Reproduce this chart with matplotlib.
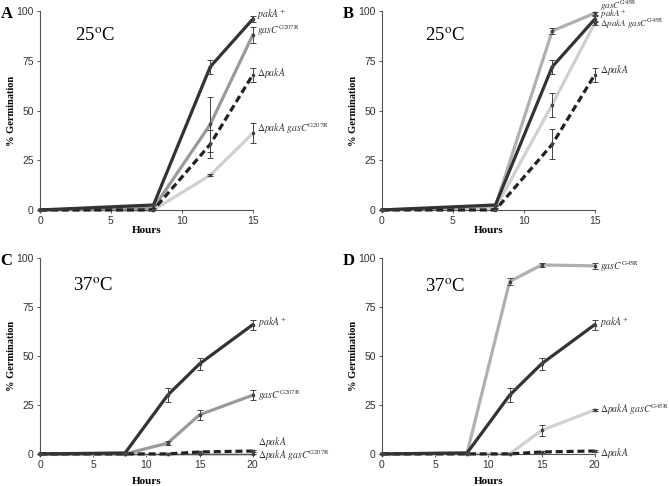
import matplotlib
matplotlib.use("Agg")
import matplotlib.pyplot as plt

plt.rcParams['mathtext.fontset'] = 'stix'
plt.rcParams['font.family'] = ['Liberation Sans', 'DejaVu Sans']

# ---------------- data ----------------
hours_25 = [0, 8, 12, 15]
hours_37 = [0, 8, 12, 15, 20]

# Panel A (25 C, G207R)
A_pakA_plus = [0, 2.5, 72, 96]
A_pakA_plus_err = [0, 0, 3.5, 1.5]
A_gasC = [0, 1, 43, 88]
A_gasC_err = [0, 0, 14, 4]
A_dpakA = [0, 0, 33, 68]
A_dpakA_err = [0, 0, 7, 3.5]
A_dpakA_gasC = [0, 0, 17.5, 38.5]
A_dpakA_gasC_err = [0, 0, 0.5, 5]

# Panel B (25 C, G45R)
B_gasC = [0, 2, 90, 99]
B_gasC_err = [0, 0, 1.5, 0.8]
B_pakA_plus = [0, 2.5, 72, 96]
B_pakA_plus_err = [0, 0, 3.5, 1.5]
B_dpakA_gasC = [0, 1, 53, 94]
B_dpakA_gasC_err = [0, 0, 6, 1]
B_dpakA = [0, 0, 33, 68]
B_dpakA_err = [0, 0, 7.5, 3.5]

# Panel C (37 C, G207R)
C_pakA_plus = [0, 0.5, 30, 46, 66]
C_pakA_plus_err = [0, 0, 3.5, 3, 2.5]
C_gasC = [0, 0, 5.5, 20, 30]
C_gasC_err = [0, 0, 1, 2.5, 2.5]
C_dpakA = [0, 0, 0, 1, 1.5]
C_dpakA_err = [0, 0, 0, 0.5, 0.5]
C_dpakA_gasC = [0, 0, 0, 0, 0]
C_dpakA_gasC_err = [0, 0, 0, 0, 0]

# Panel D (37 C, G45R)
D_gasC = [0, 0.5, 88, 96.5, 96]
D_gasC_err = [0, 0, 2, 1, 1.5]
D_pakA_plus = [0, 0.5, 30, 46, 66]
D_pakA_plus_err = [0, 0, 3.5, 3, 2.5]
D_dpakA_gasC = [0, 0, 0, 12, 22.5]
D_dpakA_gasC_err = [0, 0, 0, 3, 0.5]
D_dpakA = [0, 0, 0, 1, 1.5]
D_dpakA_err = [0, 0, 0, 0.5, 0.5]

lab_pakA_plus = r"$\mathit{pakA}^{+}$"
lab_gasC207 = r"$\mathit{gasC}^{\mathrm{G207R}}$"
lab_gasC45 = r"$\mathit{gasC}^{\mathrm{G45R}}$"
lab_dpakA = r"$\Delta\mathit{pakA}$"
lab_dpakA_gasC207 = r"$\Delta\mathit{pakA\ gasC}^{\mathrm{G207R}}$"
lab_dpakA_gasC45 = r"$\Delta\mathit{pakA\ gasC}^{\mathrm{G45R}}$"

DARK = '#333333'
MID = '#9a9a9a'
MIDL = '#b0b0b0'
LIGHT = '#d0d0d0'

fig = plt.figure(figsize=(6.69, 4.86), dpi=100)

W = 0.318
axA = fig.add_axes([0.0598, 0.568, W, 0.409])
axB = fig.add_axes([0.571, 0.568, W, 0.409])
axC = fig.add_axes([0.0598, 0.066, W, 0.403])
axD = fig.add_axes([0.571, 0.066, W, 0.403])


def series(ax, x, y, err, color, ls='-', lw=2.3, z=3):
    ax.plot(x, y, color=color, lw=lw, ls=ls, marker='s', ms=2.0,
            mfc='#444444', mec='#444444', clip_on=False, zorder=z)
    ax.errorbar(x, y, yerr=err, fmt='none', ecolor='#444444', elinewidth=0.7,
                capsize=2.2, capthick=0.7, clip_on=False, zorder=z + 1)


def style(ax, xmax, xticks, letter, temp, tx, ty, xpad):
    ax.set_xlim(0, xmax)
    ax.set_ylim(0, 100)
    ax.set_xticks(xticks)
    ax.set_yticks([0, 25, 50, 75, 100])
    for s in ['top', 'right']:
        ax.spines[s].set_visible(False)
    for s in ['left', 'bottom']:
        ax.spines[s].set_color('#555555')
        ax.spines[s].set_linewidth(0.8)
    ax.tick_params(labelsize=7.5, length=2.5, width=0.7, colors='#555555',
                   labelcolor='#333333', pad=2)
    ax.set_xlabel('Hours', family='Liberation Serif', fontweight='bold',
                  fontsize=8, labelpad=xpad)
    ax.set_ylabel('% Germination', family='Liberation Serif',
                  fontweight='bold', fontsize=7.5, labelpad=0)
    ax.text(-0.185, 0.985, letter, transform=ax.transAxes,
            family='Liberation Serif', fontweight='bold', fontsize=12,
            va='center', ha='left')
    ax.text(tx, ty, temp, transform=ax.transAxes, family='Liberation Serif',
            fontsize=13.5, va='center', ha='left')


def lbl(ax, x, y, s, size=7):
    ax.text(x, y, s, fontsize=size, va='center', ha='left', color='#333333',
            clip_on=False)


# Panel A
series(axA, hours_25, A_dpakA_gasC, A_dpakA_gasC_err, LIGHT, z=2)
series(axA, hours_25, A_gasC, A_gasC_err, MID, z=3)
series(axA, hours_25, A_dpakA, A_dpakA_err, '#222222', ls=(0, (2.2, 1.2)), z=4)
series(axA, hours_25, A_pakA_plus, A_pakA_plus_err, DARK, z=5)
style(axA, 15, [0, 5, 10, 15], 'A', r"25$^{\rm o}$C", 0.165, 0.875, 0)
lbl(axA, 15.3, 98, lab_pakA_plus)
lbl(axA, 15.3, 90.5, lab_gasC207)
lbl(axA, 15.3, 69, lab_dpakA)
lbl(axA, 15.3, 41, lab_dpakA_gasC207)

# Panel B
series(axB, hours_25, B_dpakA_gasC, B_dpakA_gasC_err, LIGHT, z=2)
series(axB, hours_25, B_gasC, B_gasC_err, MIDL, z=3)
series(axB, hours_25, B_dpakA, B_dpakA_err, '#222222', ls=(0, (2.2, 1.2)), z=4)
series(axB, hours_25, B_pakA_plus, B_pakA_plus_err, DARK, z=5)
style(axB, 15, [0, 5, 10, 15], 'B', r"25$^{\rm o}$C", 0.2, 0.875, 0)
lbl(axB, 15.35, 102.8, lab_gasC45, 6.5)
lbl(axB, 15.35, 98.2, lab_pakA_plus, 6.5)
lbl(axB, 15.35, 93.6, lab_dpakA_gasC45, 6.5)
lbl(axB, 15.35, 70.5, lab_dpakA)

# Panel C
series(axC, hours_37, C_dpakA_gasC, C_dpakA_gasC_err, LIGHT, z=2)
series(axC, hours_37, C_gasC, C_gasC_err, MID, z=3)
series(axC, hours_37, C_dpakA, C_dpakA_err, '#222222', ls=(0, (2.2, 1.2)), z=4)
series(axC, hours_37, C_pakA_plus, C_pakA_plus_err, DARK, z=5)
style(axC, 20, [0, 5, 10, 15, 20], 'C', r"37$^{\rm o}$C", 0.155, 0.857, 5)
lbl(axC, 20.45, 67, lab_pakA_plus)
lbl(axC, 20.45, 30, lab_gasC207)
lbl(axC, 20.45, 6.3, lab_dpakA)
lbl(axC, 20.45, -0.8, lab_dpakA_gasC207)

# Panel D
series(axD, hours_37, D_dpakA_gasC, D_dpakA_gasC_err, LIGHT, z=2)
series(axD, hours_37, D_gasC, D_gasC_err, MIDL, z=3)
series(axD, hours_37, D_dpakA, D_dpakA_err, '#222222', ls=(0, (2.2, 1.2)), z=4)
series(axD, hours_37, D_pakA_plus, D_pakA_plus_err, DARK, z=5)
style(axD, 20, [0, 5, 10, 15, 20], 'D', r"37$^{\rm o}$C", 0.2, 0.85, 5)
lbl(axD, 20.45, 96, lab_gasC45)
lbl(axD, 20.45, 67, lab_pakA_plus)
lbl(axD, 20.45, 23, lab_dpakA_gasC45)
lbl(axD, 20.45, 0.5, lab_dpakA)

fig.savefig('out.png', dpi=100)
